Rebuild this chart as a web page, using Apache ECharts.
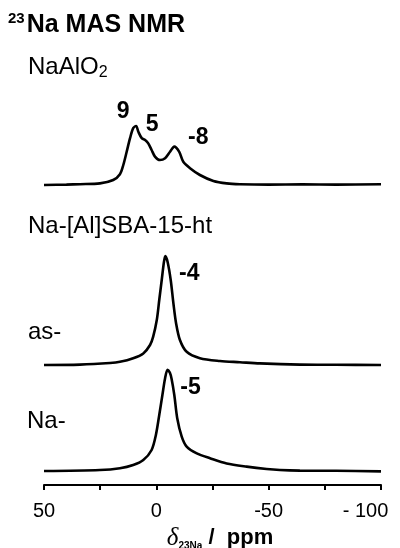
<!DOCTYPE html>
<html>
<head>
<meta charset="utf-8">
<script src="https://cdn.jsdelivr.net/npm/echarts@6/dist/echarts.min.js"></script>
<style>
html, body { margin: 0; padding: 0; background: #fff; }
#c { width: 400px; height: 548px; }
</style>
</head>
<body>
<div id="c"></div>
<script>
// 23Na MAS NMR spectra: chemical shift (ppm) and intensity (a.u.)
const ppmNaAlO2 = [50, 40, 34.0, 25.1, 19.2, 16.2, 14.7, 13.2, 11.7, 10.3, 9.0, 8.0, 6.5, 5.0, 3.6, 2.1, 0.6, -1.6, -3.9, -6.1, -8.0, -10.2, -12.0, -15.0, -19.4, -25.4, -31.3, -37.2, -50, -65, -80, -100];
const intNaAlO2 = [0.0, 0.1, 0.2, 0.4, 1.25, 2.7, 5.0, 8.3, 11.7, 14.2, 14.75, 13.3, 11.7, 11.25, 10.4, 8.75, 7.1, 6.25, 6.7, 8.3, 9.6, 8.3, 5.8, 4.2, 2.5, 1.0, 0.4, 0.2, 0.1, 0.15, 0.1, 0.2];

const ppmAs = [50, 34.0, 20.6, 16.2, 10.3, 5.8, 2.8, 1.4, -0.2, -1.3, -2.4, -3.4, -4.0, -5.0, -6.4, -7.6, -8.8, -10.5, -13.5, -19.4, -28.3, -37.2, -46.1, -63.9, -80, -100];
const intAs = [0.0, 0.1, 0.5, 0.8, 1.7, 2.9, 5.0, 7.1, 11.25, 16.25, 21.25, 25.8, 27.25, 25.8, 21.25, 15.4, 10.4, 6.25, 3.3, 1.7, 1.0, 0.7, 0.4, 0.1, 0.05, 0.0];

const ppmNa = [50, 25.1, 16.2, 10.3, 5.8, 2.1, 0.2, -1.3, -2.7, -3.9, -5.0, -6.0, -6.8, -8.0, -9.3, -11.3, -13.5, -18.0, -23.9, -31.3, -40.2, -49.1, -55.0, -63.9, -80, -100];
const intNa = [0.0, 0.25, 0.7, 1.5, 2.75, 5.25, 9.0, 14.0, 19.0, 23.2, 25.3, 24.6, 23.0, 19.0, 13.2, 8.6, 6.1, 4.4, 3.2, 1.9, 1.1, 0.5, 0.25, 0.1, 0.05, -0.1];

// vertical stacking of the traces
const offsetNaAlO2 = 75;
const offsetAs = 30;
const offsetNa = 3.5;

// assigned peak positions (ppm)
const peaksNaAlO2 = [9, 5, -8];
const peaksAs = [-4];
const peaksNa = [-5];

// labelled ticks of the shift axis
const xTickLabels = [50, 0, -50, -100];

const SANS = 'Liberation Sans';

function trace(ppm, intensity, offset) {
  return ppm.map((p, i) => [p, intensity[i] + offset]);
}

function peakMarks(ppm, intensity, offset, peaks, offsets) {
  return peaks.map((p, k) => ({
    coord: [p, intensity[ppm.indexOf(p)] + offset],
    value: p,
    label: { offset: offsets[k] }
  }));
}

function spectrum(name, ppm, intensity, offset, peaks, labelOffsets) {
  return {
    name: name,
    type: 'line',
    data: trace(ppm, intensity, offset),
    smooth: 0.3,
    showSymbol: false,
    lineStyle: { color: '#000', width: 2.6 },
    emphasis: { disabled: true },
    markPoint: {
      symbol: 'circle',
      symbolSize: 1,
      itemStyle: { color: 'rgba(0,0,0,0)' },
      label: {
        show: true,
        position: 'inside',
        color: '#000',
        fontFamily: SANS,
        fontWeight: 'bold',
        fontSize: 23,
        formatter: (p) => String(p.value)
      },
      data: peakMarks(ppm, intensity, offset, peaks, labelOffsets)
    }
  };
}

const chart = echarts.init(document.getElementById('c'));
chart.setOption({
  animation: false,
  backgroundColor: '#fff',
  grid: { left: 44, right: 19, top: 85, bottom: 63, outerBoundsMode: 'none' },
  xAxis: {
    type: 'value',
    min: -100,
    max: 50,
    interval: 25,
    inverse: true,
    axisLine: { onZero: false, lineStyle: { color: '#000', width: 2 } },
    axisTick: { length: 5, lineStyle: { color: '#000', width: 2 } },
    splitLine: { show: false },
    axisLabel: {
      margin: 16,
      color: '#000',
      fontFamily: SANS,
      fontSize: 20,
      formatter: (v) => xTickLabels.indexOf(v) < 0 ? '' : (v === -100 ? '{r|- 100}' : String(v)),
      rich: {
        r: { fontFamily: SANS, fontSize: 20, color: '#000', padding: [0, 31, 0, 0] }
      }
    },
    name: '{d|δ}{s|23Na}{p| /  ppm}',
    nameLocation: 'middle',
    nameGap: 40,
    nameTextStyle: {
      padding: [0, 0, 0, 15],
      rich: {
        d: { fontFamily: 'Liberation Serif', fontStyle: 'italic', fontSize: 25, color: '#000', lineHeight: 26 },
        s: { fontFamily: SANS, fontWeight: 'bold', fontSize: 10, color: '#000', lineHeight: 11, verticalAlign: 'bottom' },
        p: { fontFamily: SANS, fontWeight: 'bold', fontSize: 22, color: '#000', lineHeight: 26 }
      }
    }
  },
  yAxis: { type: 'value', min: 0, max: 100, show: false },
  graphic: [
    {
      type: 'text', x: 8, y: 25,
      style: {
        text: '{sup|23}{t|Na MAS NMR}', verticalAlign: 'middle', align: 'left',
        rich: {
          sup: { fontFamily: SANS, fontWeight: 'bold', fontSize: 15, lineHeight: 15, verticalAlign: 'top', padding: [0, 2, 0, 0], fill: '#000' },
          t: { fontFamily: SANS, fontWeight: 'bold', fontSize: 25, lineHeight: 28, fill: '#000' }
        }
      }
    },
    {
      type: 'text', x: 28, y: 67,
      style: {
        text: '{m|NaAlO}{s|2}', verticalAlign: 'middle', align: 'left',
        rich: {
          m: { fontFamily: SANS, fontSize: 24, lineHeight: 28, fill: '#000' },
          s: { fontFamily: SANS, fontSize: 16, lineHeight: 16, verticalAlign: 'bottom', fill: '#000' }
        }
      }
    },
    { type: 'text', x: 28, y: 226, style: { text: 'Na-[Al]SBA-15-ht', font: '24px "Liberation Sans"', fill: '#000', verticalAlign: 'middle' } },
    { type: 'text', x: 28, y: 332, style: { text: 'as-', font: '24px "Liberation Sans"', fill: '#000', verticalAlign: 'middle' } },
    { type: 'text', x: 27, y: 421, style: { text: 'Na-', font: '24px "Liberation Sans"', fill: '#000', verticalAlign: 'middle' } }
  ],
  series: [
    spectrum('NaAlO2', ppmNaAlO2, intNaAlO2, offsetNaAlO2, peaksNaAlO2, [[-13, -14], [7, -15], [24, -9]]),
    spectrum('as-', ppmAs, intAs, offsetAs, peaksAs, [[24, 18]]),
    spectrum('Na-', ppmNa, intNa, offsetNa, peaksNa, [[23, 18]])
  ]
});
</script>
</body>
</html>
